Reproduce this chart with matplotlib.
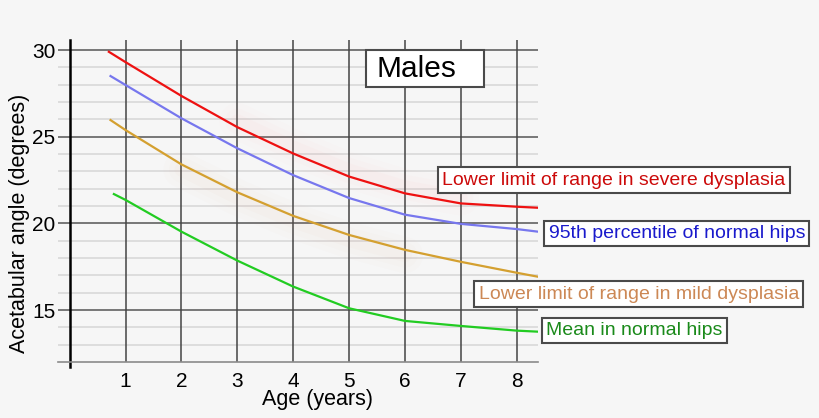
import matplotlib.pyplot as plt
from matplotlib.patches import Rectangle
import numpy as np

plt.rcParams['font.family'] = ['Liberation Sans', 'DejaVu Sans']

# values (age in years, angle in degrees)
age_severe = [0.70, 1, 2, 3, 4, 5, 6, 7, 8, 8.38]
severe = [29.9, 29.3, 27.35, 25.55, 24.03, 22.7, 21.73, 21.15, 20.96, 20.9]

age_p95 = [0.73, 1, 2, 3, 4, 5, 6, 7, 8, 8.38]
p95 = [28.5, 27.98, 26.06, 24.33, 22.78, 21.46, 20.5, 19.97, 19.67, 19.52]

age_mild = [0.73, 1, 2, 3, 4, 5, 6, 7, 8, 8.38]
mild = [25.96, 25.38, 23.4, 21.79, 20.43, 19.33, 18.47, 17.78, 17.15, 16.92]

age_mean = [0.79, 1, 2, 3, 4, 5, 6, 7, 8, 8.38]
mean = [21.69, 21.35, 19.52, 17.85, 16.35, 15.1, 14.37, 14.08, 13.81, 13.75]

x_ticks = [1, 2, 3, 4, 5, 6, 7, 8]
y_major = [15, 20, 25, 30]
y_minor = [13, 14, 16, 17, 18, 19, 21, 22, 23, 24, 26, 27, 28, 29]

labels = ['Lower limit of range in severe dysplasia',
          '95th percentile of normal hips',
          'Lower limit of range in mild dysplasia',
          'Mean in normal hips']
label_x = [6.67, 8.57, 7.32, 8.53]
label_y = [22.5, 19.41, 15.92, 13.81]

bg = '#f6f6f6'
fig = plt.figure(figsize=(8.2, 4.18), dpi=100, facecolor=bg)
ax = fig.add_axes([58 / 820, 56 / 418, 480 / 820, 322 / 418])
ax.set_facecolor(bg)
ax.set_xlim(-0.21, 8.38)
ax.set_ylim(12, 30.58)

for s in ['top', 'right', 'left']:
    ax.spines[s].set_visible(False)
ax.spines['bottom'].set_color('#8a8a8a')
ax.spines['bottom'].set_linewidth(1.2)

# grid
for y in y_minor:
    ax.axhline(y, color='#d9d9d9', lw=1.2, zorder=1)
for y in y_major:
    ax.axhline(y, color='#555555', lw=1.1, zorder=1)
for x in x_ticks:
    ax.axvline(x, color='#444444', lw=1.1, zorder=1)
ax.plot([0, 0], [11.7, 30.58], color='black', lw=1.8, clip_on=False, zorder=2)

ax.set_xticks(x_ticks)
ax.set_yticks(y_major)
ax.tick_params(axis='both', length=0, labelsize=15, colors='black')
ax.tick_params(axis='x', pad=7)
ax.tick_params(axis='y', pad=2)

# faint glow around the upper curves
for w, a in [(26, 0.02), (18, 0.025), (10, 0.03)]:
    ax.plot(age_severe[3:8], np.array(severe[3:8]) + 0.35, color='#ff9090',
            lw=w, alpha=a, solid_capstyle='round', zorder=2)
    ax.plot(age_mild[2:7], np.array(mild[2:7]) - 0.3, color='#e0a080',
            lw=w, alpha=a, solid_capstyle='round', zorder=2)

ax.plot(age_severe, severe, color='#ee1111', lw=1.6, zorder=3)
ax.plot(age_p95, p95, color='#7777ee', lw=1.6, zorder=3)
ax.plot(age_mild, mild, color='#d4a030', lw=1.6, zorder=3)
ax.plot(age_mean, mean, color='#22cc22', lw=1.6, zorder=3)

text_colors = ['#cc0a0a', '#1a1acc', '#cc8855', '#1a8a1a']
for lab, lx, ly, c in zip(labels, label_x, label_y, text_colors):
    ax.text(lx, ly, lab, color=c, fontsize=14, ha='left', va='center',
            clip_on=False, zorder=5,
            bbox=dict(boxstyle='square,pad=0.22', fc='white', ec='#4a4a4a', lw=1.5))

ax.add_patch(Rectangle((5.31, 27.86), 2.10, 2.14, fc='white', ec='#4a4a4a',
                       lw=1.5, zorder=5))
ax.text(5.49, 28.93, 'Males', fontsize=21.5, ha='left', va='center', zorder=6)

fig.text(318 / 820, 1 - 400 / 418, 'Age (years)', fontsize=15.5, ha='center', va='center')
fig.text(20 / 820, 1 - 223 / 418, 'Acetabular angle (degrees)', fontsize=15.5,
         rotation=90, ha='center', va='center')

fig.savefig('out.png', dpi=100, facecolor=bg)
